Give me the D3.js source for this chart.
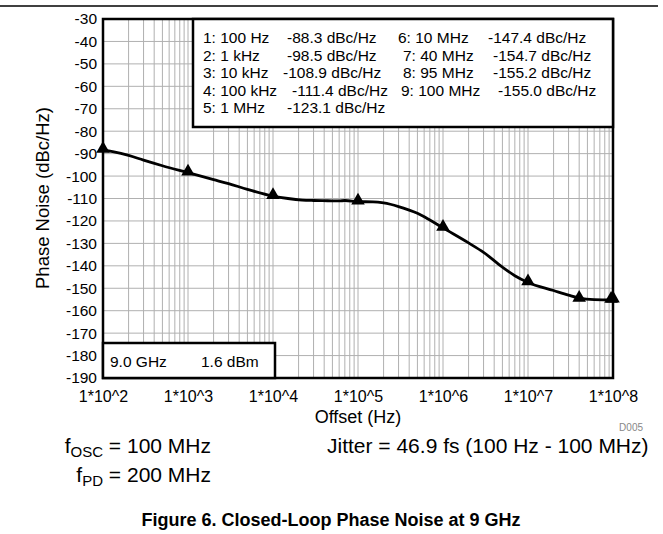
<!DOCTYPE html>
<html>
<head>
<meta charset="utf-8">
<script src="https://cdn.jsdelivr.net/npm/d3@7/dist/d3.min.js"></script>
<style>
body { margin: 0; background: #fff; }
svg { display: block; font-family: Arial, "Liberation Sans", sans-serif; }
</style>
</head>
<body>
<svg id="chart" width="663" height="534"></svg>
<script>
// phase noise trace
var curveFreq = [100, 130, 200, 300, 500, 1000, 2000, 3000, 5000, 10000, 15000, 22000, 30000, 44000, 60000, 70000, 100000,
                 150000, 200000, 300000, 500000, 700000, 1e6, 2e6, 3e6, 5e6, 7e6, 1e7, 2e7, 3e7, 4e7, 6e7, 9.5e7, 1e8];
var curvePn = [-88.3, -89.1, -90.8, -92.9, -95.4, -98.5, -101.6, -103.4, -105.9, -108.9, -110.0, -110.7, -110.9, -111.0, -111.1, -110.9, -111.4,
               -111.5, -112.0, -113.6, -116.6, -119.6, -123.1, -129.8, -134.0, -140.6, -144.4, -147.4, -151.0, -153.1, -154.4, -155.1, -155.2, -155.0];

// markers
var markerFreq = [1e2, 1e3, 1e4, 1e5, 1e6, 1e7, 4e7, 9.5e7, 1e8];
var markerNames = ['100 Hz', '1 kHz', '10 kHz', '100 kHz', '1 MHz', '10 MHz', '40 MHz', '95 MHz', '100 MHz'];
var markerPn = [-88.3, -98.5, -108.9, -111.4, -123.1, -147.4, -154.7, -155.2, -155.0];

var yTicks = [-30, -40, -50, -60, -70, -80, -90, -100, -110, -120, -130, -140, -150, -160, -170, -180, -190];
var xTicks = [1e2, 1e3, 1e4, 1e5, 1e6, 1e7, 1e8];
var xTickLabels = ['1*10^2', '1*10^3', '1*10^4', '1*10^5', '1*10^6', '1*10^7', '1*10^8'];

var svg = d3.select('#chart');

var pLeft = 103, pRight = 613, pTop = 19, pBottom = 378;
var fontFam = 'Arial, "Liberation Sans", sans-serif';

var x = d3.scaleLog().domain([1e2, 1e8]).range([pLeft, pRight]);
var y = d3.scaleLinear().domain([-190, -30]).range([pBottom, pTop]);

// rule at the very top of the page
svg.append('line')
    .attr('x1', 0).attr('x2', 658)
    .attr('y1', 6).attr('y2', 6)
    .attr('stroke', '#000').attr('stroke-width', 1.5);

// grid
var grid = svg.append('g').attr('stroke', '#b0b0b0').attr('stroke-width', 1);
grid.selectAll('line.vx')
    .data(x.ticks())
    .enter().append('line')
    .attr('class', 'vx')
    .attr('x1', function(d){ return x(d); })
    .attr('x2', function(d){ return x(d); })
    .attr('y1', pTop).attr('y2', pBottom);
grid.selectAll('line.hy')
    .data(yTicks)
    .enter().append('line')
    .attr('class', 'hy')
    .attr('x1', pLeft).attr('x2', pRight)
    .attr('y1', function(d){ return y(d); })
    .attr('y2', function(d){ return y(d); });

// axes
var yAxis = svg.append('g')
    .attr('transform', 'translate(' + (pLeft - 6) + ',0)')
    .call(d3.axisLeft(y).tickValues(yTicks).tickSize(0).tickPadding(0)
        .tickFormat(function(d){ return String(d); }));
yAxis.select('.domain').remove();
yAxis.selectAll('text').attr('font-size', 15.5).attr('fill', '#000').attr('font-family', fontFam);

var xAxis = svg.append('g')
    .attr('transform', 'translate(0,' + (pBottom + 12.5) + ')')
    .call(d3.axisBottom(x).tickValues(xTicks).tickSize(0).tickPadding(0)
        .tickFormat(function(d, i){ return xTickLabels[i]; }));
xAxis.select('.domain').remove();
xAxis.selectAll('text').attr('font-size', 16).attr('fill', '#000').attr('font-family', fontFam);

// trace
var line = d3.line()
    .x(function(d){ return x(d[0]); })
    .y(function(d){ return y(d[1]); })
    .curve(d3.curveMonotoneX);

svg.append('path')
    .datum(d3.zip(curveFreq, curvePn))
    .attr('d', line)
    .attr('fill', 'none')
    .attr('stroke', '#000')
    .attr('stroke-width', 2.8)
    .attr('stroke-linejoin', 'round');

// plot frame
svg.append('rect')
    .attr('x', pLeft).attr('y', pTop)
    .attr('width', pRight - pLeft).attr('height', pBottom - pTop)
    .attr('fill', 'none').attr('stroke', '#000').attr('stroke-width', 2.5);

// marker triangles
svg.selectAll('path.mk')
    .data(d3.zip(markerFreq, markerPn))
    .enter().append('path')
    .attr('class', 'mk')
    .attr('d', d3.symbol().type(d3.symbolTriangle).size(80))
    .attr('transform', function(d){ return 'translate(' + x(d[0]) + ',' + (y(d[1]) - 1) + ')'; })
    .attr('fill', '#000');

// marker table
var legend = svg.append('g');
legend.append('rect')
    .attr('x', 193).attr('y', pTop)
    .attr('width', pRight - 193).attr('height', 108)
    .attr('fill', '#fff').attr('stroke', '#000').attr('stroke-width', 2.5);

var rowY = [43, 61, 78, 96, 113];
var nameX = [203, 203, 203, 203, 203, 398, 403, 403, 401];
var valueX = [287, 287, 283, 292, 287, 488, 493, 493, 498];
markerNames.forEach(function(name, i){
    var r = i < 5 ? i : i - 5;
    legend.append('text')
        .attr('x', nameX[i]).attr('y', rowY[r])
        .attr('font-size', 15.5)
        .text((i + 1) + ': ' + name);
    legend.append('text')
        .attr('x', valueX[i]).attr('y', rowY[r])
        .attr('font-size', 15.5)
        .text(markerPn[i].toFixed(1) + ' dBc/Hz');
});

// carrier box
svg.append('rect')
    .attr('x', pLeft).attr('y', 343)
    .attr('width', 172).attr('height', pBottom - 343)
    .attr('fill', '#fff').attr('stroke', '#000').attr('stroke-width', 2.5);
svg.append('text').attr('x', 110).attr('y', 367).attr('font-size', 15.5).text('9.0 GHz');
svg.append('text').attr('x', 201).attr('y', 367).attr('font-size', 15.5).text('1.6 dBm');

// axis titles
svg.append('text')
    .attr('transform', 'translate(49,198) rotate(-90)')
    .attr('text-anchor', 'middle')
    .attr('font-size', 18.5)
    .text('Phase Noise (dBc/Hz)');

svg.append('text')
    .attr('x', 358).attr('y', 423)
    .attr('text-anchor', 'middle')
    .attr('font-size', 18)
    .text('Offset (Hz)');

svg.append('text')
    .attr('x', 643).attr('y', 431)
    .attr('text-anchor', 'end')
    .attr('font-size', 10)
    .attr('fill', '#888')
    .text('D005');

// conditions
var t1 = svg.append('text').attr('x', 211).attr('y', 453).attr('text-anchor', 'end').attr('font-size', 21);
t1.append('tspan').text('f');
t1.append('tspan').attr('font-size', 15).attr('dy', 4).text('OSC');
t1.append('tspan').attr('dy', -4).text(' = 100 MHz');

var t2 = svg.append('text').attr('x', 211).attr('y', 482).attr('text-anchor', 'end').attr('font-size', 21);
t2.append('tspan').text('f');
t2.append('tspan').attr('font-size', 15).attr('dy', 4).text('PD');
t2.append('tspan').attr('dy', -4).text(' = 200 MHz');

svg.append('text')
    .attr('x', 327).attr('y', 453)
    .attr('font-size', 21)
    .text('Jitter = 46.9 fs (100 Hz - 100 MHz)');

svg.append('text')
    .attr('x', 331).attr('y', 526)
    .attr('text-anchor', 'middle')
    .attr('font-size', 18)
    .attr('font-weight', 'bold')
    .text('Figure 6. Closed-Loop Phase Noise at 9 GHz');
</script>
</body>
</html>
